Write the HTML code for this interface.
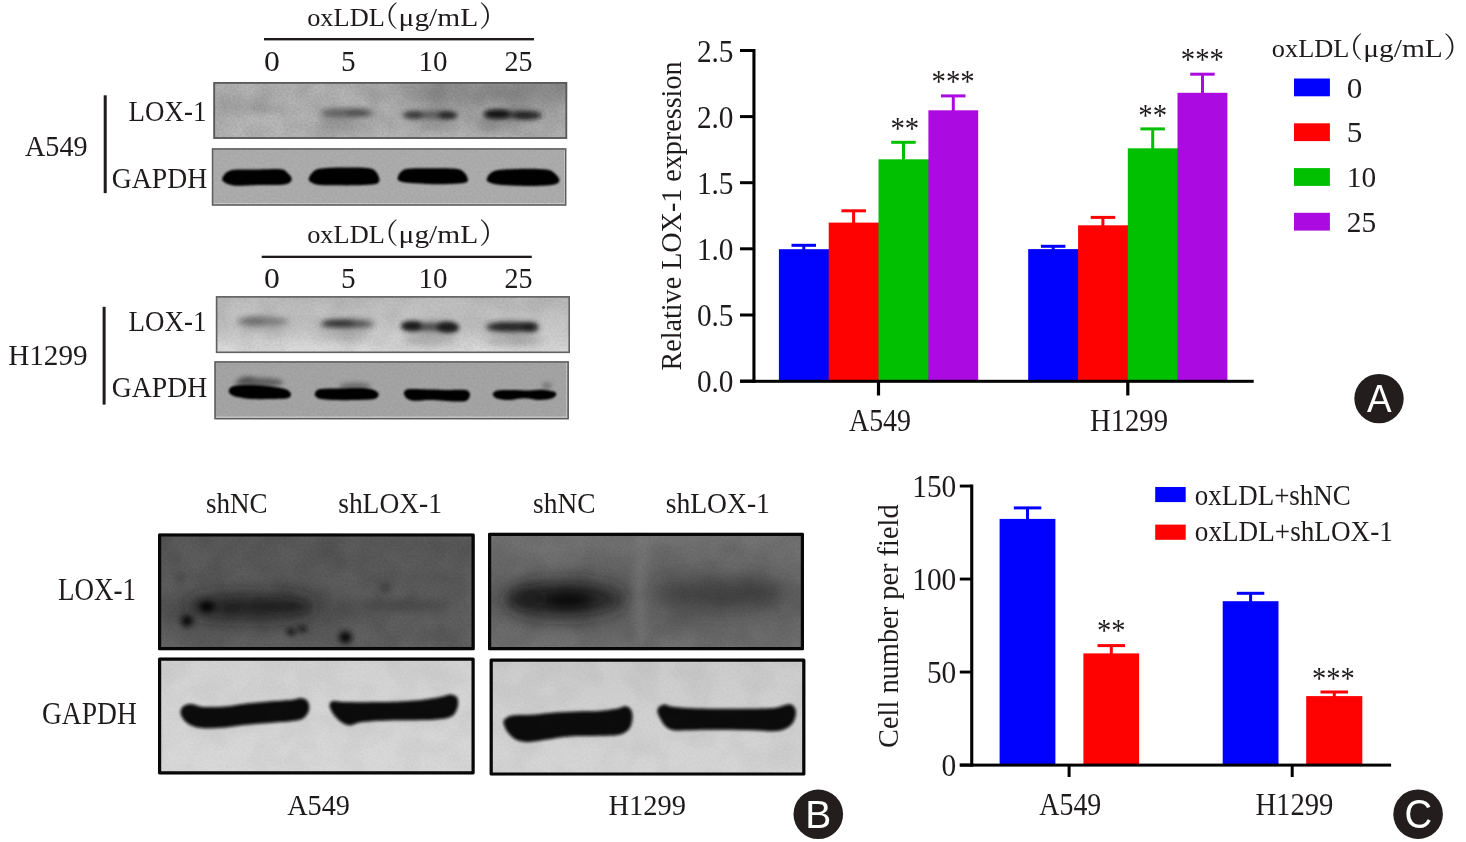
<!DOCTYPE html>
<html lang="en"><head><meta charset="utf-8"><title>Figure</title>
<style>html,body{margin:0;padding:0;background:#fff}svg{display:block}text{font-family:"Liberation Serif", "Noto Serif CJK SC", serif;}</style></head><body>
<svg width="1466" height="842" viewBox="0 0 1466 842">
<rect width="1466" height="842" fill="#fff"/>
<g opacity="0.999">
<defs>
<filter id="b05" filterUnits="userSpaceOnUse" x="0" y="0" width="1466" height="842"><feGaussianBlur stdDeviation="0.5"/></filter>
<filter id="b1" filterUnits="userSpaceOnUse" x="0" y="0" width="1466" height="842"><feGaussianBlur stdDeviation="1.0"/></filter>
<filter id="b15" filterUnits="userSpaceOnUse" x="0" y="0" width="1466" height="842"><feGaussianBlur stdDeviation="1.5"/></filter>
<filter id="b2" filterUnits="userSpaceOnUse" x="0" y="0" width="1466" height="842"><feGaussianBlur stdDeviation="2.0"/></filter>
<filter id="b3" filterUnits="userSpaceOnUse" x="0" y="0" width="1466" height="842"><feGaussianBlur stdDeviation="3.0"/></filter>
<filter id="b4" filterUnits="userSpaceOnUse" x="0" y="0" width="1466" height="842"><feGaussianBlur stdDeviation="4.0"/></filter>
<filter id="b6" filterUnits="userSpaceOnUse" x="0" y="0" width="1466" height="842"><feGaussianBlur stdDeviation="6.0"/></filter>
<filter id="b9" filterUnits="userSpaceOnUse" x="0" y="0" width="1466" height="842"><feGaussianBlur stdDeviation="9.0"/></filter>
<linearGradient id="gA1" x1="0" y1="0" x2="1" y2="0"><stop offset="0" stop-color="#b9b9b9"/><stop offset="0.45" stop-color="#bababa"/><stop offset="0.6" stop-color="#b4b4b4"/><stop offset="1" stop-color="#b2b2b2"/></linearGradient>
<linearGradient id="gH1" x1="0" y1="0" x2="0" y2="1"><stop offset="0" stop-color="#bfbfbf"/><stop offset="0.55" stop-color="#cbcbcb"/><stop offset="1" stop-color="#e0e0e0"/></linearGradient>
<linearGradient id="gB1" x1="0" y1="0" x2="0" y2="1"><stop offset="0" stop-color="#5c5c5c"/><stop offset="0.5" stop-color="#606060"/><stop offset="1" stop-color="#646464"/></linearGradient>
<linearGradient id="gB2" x1="0" y1="0" x2="0" y2="1"><stop offset="0" stop-color="#777"/><stop offset="0.5" stop-color="#6c6c6c"/><stop offset="1" stop-color="#747474"/></linearGradient>
<linearGradient id="gG1" x1="0" y1="0" x2="0" y2="1"><stop offset="0" stop-color="#d3d3d3"/><stop offset="1" stop-color="#dadada"/></linearGradient>
<linearGradient id="gG2" x1="0" y1="0" x2="0" y2="1"><stop offset="0" stop-color="#cdcdcd"/><stop offset="1" stop-color="#d7d7d7"/></linearGradient>
<filter id="nzf" filterUnits="userSpaceOnUse" x="0" y="0" width="1466" height="842"><feTurbulence type="fractalNoise" baseFrequency="0.45" numOctaves="2" seed="7"/><feColorMatrix type="matrix" values="0 0 0 0 0  0 0 0 0 0  0 0 0 0 0  1.6 0 0 0 -0.45"/><feGaussianBlur stdDeviation="0.6"/></filter>
<filter id="nzc" filterUnits="userSpaceOnUse" x="0" y="0" width="1466" height="842"><feTurbulence type="fractalNoise" baseFrequency="0.035" numOctaves="2" seed="11"/><feColorMatrix type="matrix" values="0 0 0 0 0  0 0 0 0 0  0 0 0 0 0  2.2 0 0 0 -0.75"/></filter>
</defs>
<clipPath id="c1"><rect x="213.3" y="82.0" width="353.9" height="56.9"/></clipPath>
<g clip-path="url(#c1)">
<rect x="213.3" y="82.0" width="353.9" height="56.9" fill="url(#gA1)"/>
<ellipse cx="505.0" cy="90.0" rx="95.0" ry="16.0" fill="#7c7c7c" opacity="0.62" filter="url(#b9)"/>
<ellipse cx="405.0" cy="90.0" rx="60.0" ry="12.0" fill="#909090" opacity="0.4" filter="url(#b9)"/>
<ellipse cx="330.0" cy="136.0" rx="120.0" ry="5.0" fill="#c8c8c8" opacity="0.45" filter="url(#b4)"/>
<ellipse cx="480.0" cy="136.0" rx="90.0" ry="6.0" fill="#c8c8c8" opacity="0.5" filter="url(#b6)"/>
<ellipse cx="222.0" cy="118.0" rx="8.0" ry="14.0" fill="#a4a4a4" opacity="0.55" filter="url(#b6)"/>
<ellipse cx="265.6" cy="109.0" rx="24.0" ry="3.4" fill="#999" opacity="0.42" filter="url(#b3)"/>
<ellipse cx="347.0" cy="113.0" rx="27.0" ry="4.6" fill="#484848" opacity="0.8" filter="url(#b3)"/>
<ellipse cx="358.0" cy="113.0" rx="12.0" ry="3.0" fill="#333" opacity="0.4" filter="url(#b2)"/>
<ellipse cx="347.0" cy="124.0" rx="24.0" ry="6.0" fill="#888" opacity="0.4" filter="url(#b4)"/>
<ellipse cx="430.0" cy="115.0" rx="27.0" ry="3.8" fill="#444" opacity="0.85" filter="url(#b3)"/>
<ellipse cx="413.0" cy="115.0" rx="10.0" ry="3.2" fill="#2a2a2a" opacity="0.7" filter="url(#b2)"/>
<ellipse cx="447.5" cy="115.5" rx="9.5" ry="3.8" fill="#1c1c1c" opacity="0.85" filter="url(#b2)"/>
<ellipse cx="440.0" cy="126.0" rx="22.0" ry="6.0" fill="#808080" opacity="0.45" filter="url(#b4)"/>
<ellipse cx="513.0" cy="115.0" rx="29.0" ry="4.0" fill="#2c2c2c" opacity="0.9" filter="url(#b3)"/>
<ellipse cx="497.0" cy="114.3" rx="13.0" ry="4.6" fill="#0a0a0a" opacity="0.92" filter="url(#b2)"/>
<ellipse cx="527.0" cy="115.5" rx="14.0" ry="3.2" fill="#141414" opacity="0.75" filter="url(#b2)"/>
<ellipse cx="500.0" cy="126.0" rx="22.0" ry="6.0" fill="#7c7c7c" opacity="0.5" filter="url(#b4)"/>
<rect x="213.3" y="82.0" width="353.9" height="56.9" filter="url(#nzc)" opacity="0.1"/>
<rect x="213.3" y="82.0" width="353.9" height="56.9" filter="url(#nzf)" opacity="0.1"/>
</g>
<rect x="214.20" y="82.90" width="352.10" height="55.10" fill="none" stroke="#585858" stroke-width="1.8" stroke-linejoin="miter"/>
<clipPath id="c2"><rect x="211.8" y="148.2" width="354.6" height="57.5"/></clipPath>
<g clip-path="url(#c2)">
<rect x="211.8" y="148.2" width="354.6" height="57.5" fill="#aeaeae"/>
<path d="M222.3 178.2C222.9 176.6 224.7 173.4 227.2 172.0C229.6 170.6 231.7 170.0 237.0 169.6C242.3 169.1 251.8 169.6 259.1 169.6C266.4 169.5 276.1 168.8 280.7 169.3C285.4 169.8 285.3 170.9 287.1 172.5C289.0 174.1 291.6 177.0 291.8 178.9C291.9 180.7 290.3 182.5 288.1 183.6C285.9 184.6 283.6 184.8 278.8 185.0C273.9 185.3 266.1 184.9 259.1 185.0C252.2 185.2 242.3 185.9 237.0 185.8C231.8 185.6 230.0 184.8 227.7 184.0C225.4 183.3 224.2 182.3 223.3 181.3C222.4 180.4 221.6 179.7 222.3 178.2Z" fill="#040404" opacity="1" filter="url(#b1)"/>
<path d="M308.7 178.9C308.9 177.3 310.4 174.4 312.2 172.8C314.0 171.1 314.5 169.7 319.5 168.8C324.6 168.0 334.7 167.7 342.6 167.6C350.6 167.5 361.7 167.5 367.2 168.1C372.7 168.7 373.5 169.6 375.5 171.3C377.5 173.0 378.6 176.5 379.2 178.2C379.8 179.8 379.6 180.4 379.0 181.3C378.3 182.3 379.1 183.4 375.5 184.0C371.9 184.7 364.5 185.1 357.3 185.3C350.2 185.5 339.3 185.4 332.8 185.3C326.2 185.2 321.7 185.3 318.1 184.8C314.5 184.3 312.7 183.3 311.2 182.3C309.6 181.3 308.6 180.5 308.7 178.9Z" fill="#040404" opacity="1" filter="url(#b1)"/>
<path d="M397.6 178.2C397.8 176.7 398.9 173.8 400.6 172.3C402.3 170.7 402.9 169.5 407.9 168.8C413.0 168.2 423.1 168.3 431.0 168.3C439.0 168.3 450.1 168.2 455.6 168.8C461.1 169.5 461.9 170.5 463.9 172.3C466.0 174.0 467.7 177.6 467.9 179.4C468.0 181.1 467.8 182.0 464.9 182.8C462.0 183.6 457.1 183.8 450.7 184.0C444.2 184.3 433.5 184.3 426.1 184.0C418.7 183.8 410.9 183.3 406.5 182.8C402.0 182.3 401.1 181.9 399.6 181.1C398.1 180.3 397.5 179.6 397.6 178.2Z" fill="#040404" opacity="1" filter="url(#b1)"/>
<path d="M486.8 179.4C486.9 177.9 488.2 175.0 490.2 173.5C492.2 171.9 493.1 170.8 498.8 170.0C504.5 169.3 516.4 168.9 524.3 168.8C532.3 168.7 541.4 168.8 546.4 169.6C551.5 170.3 552.6 171.8 554.8 173.5C557.0 175.2 559.3 178.1 559.5 179.9C559.6 181.6 558.8 183.1 555.8 184.0C552.8 185.0 548.0 185.5 541.5 185.8C535.1 186.1 524.3 186.0 517.0 185.8C509.6 185.6 502.0 185.1 497.3 184.5C492.7 184.0 491.0 183.2 489.2 182.3C487.5 181.5 486.6 180.9 486.8 179.4Z" fill="#040404" opacity="1" filter="url(#b1)"/>
<rect x="212.5" y="203.4" width="353" height="1.2" fill="#e6e6e6" opacity="0.8"/>
<rect x="564.0" y="149.5" width="1.1" height="55" fill="#dcdcdc" opacity="0.7"/>
<rect x="211.8" y="148.2" width="354.6" height="57.5" filter="url(#nzf)" opacity="0.06"/>
</g>
<rect x="212.55" y="148.95" width="353.10" height="56.00" fill="none" stroke="#5c5c5c" stroke-width="1.5" stroke-linejoin="miter"/>
<clipPath id="c3"><rect x="215.8" y="296.1" width="354.2" height="57.0"/></clipPath>
<g clip-path="url(#c3)">
<rect x="215.8" y="296.1" width="354.2" height="57.0" fill="url(#gH1)"/>
<ellipse cx="262.7" cy="321.5" rx="27.0" ry="4.2" fill="#5e5e5e" opacity="0.75" filter="url(#b3)"/>
<ellipse cx="252.0" cy="321.0" rx="12.0" ry="3.0" fill="#444" opacity="0.35" filter="url(#b3)"/>
<ellipse cx="262.7" cy="330.0" rx="24.0" ry="6.0" fill="#999" opacity="0.3" filter="url(#b4)"/>
<ellipse cx="347.3" cy="324.0" rx="27.0" ry="4.4" fill="#343434" opacity="0.9" filter="url(#b3)"/>
<ellipse cx="338.0" cy="323.3" rx="15.0" ry="3.0" fill="#1c1c1c" opacity="0.55" filter="url(#b2)"/>
<ellipse cx="347.3" cy="335.0" rx="24.0" ry="6.0" fill="#888" opacity="0.45" filter="url(#b4)"/>
<ellipse cx="430.0" cy="327.0" rx="27.0" ry="4.2" fill="#333" opacity="0.9" filter="url(#b3)"/>
<ellipse cx="411.5" cy="326.0" rx="10.5" ry="4.8" fill="#141414" opacity="0.92" filter="url(#b2)"/>
<ellipse cx="448.0" cy="327.5" rx="11.0" ry="5.4" fill="#121212" opacity="0.92" filter="url(#b2)"/>
<ellipse cx="430.0" cy="339.0" rx="26.0" ry="6.0" fill="#888" opacity="0.5" filter="url(#b4)"/>
<ellipse cx="512.4" cy="327.0" rx="27.0" ry="4.8" fill="#242424" opacity="0.92" filter="url(#b3)"/>
<ellipse cx="512.0" cy="327.0" rx="24.0" ry="3.6" fill="#141414" opacity="0.6" filter="url(#b2)"/>
<ellipse cx="530.5" cy="327.5" rx="7.0" ry="4.6" fill="#141414" opacity="0.6" filter="url(#b2)"/>
<ellipse cx="514.0" cy="340.0" rx="28.0" ry="6.5" fill="#888" opacity="0.5" filter="url(#b4)"/>
<rect x="215.8" y="296.1" width="354.2" height="57.0" filter="url(#nzc)" opacity="0.06"/>
<rect x="215.8" y="296.1" width="354.2" height="57.0" filter="url(#nzf)" opacity="0.07"/>
</g>
<rect x="216.60" y="296.90" width="352.60" height="55.40" fill="none" stroke="#606060" stroke-width="1.6" stroke-linejoin="miter"/>
<clipPath id="c4"><rect x="214.3" y="361.2" width="354.6" height="58.2"/></clipPath>
<g clip-path="url(#c4)">
<rect x="214.3" y="361.2" width="354.6" height="58.2" fill="#a6a6a6"/>
<ellipse cx="259.0" cy="382.5" rx="24.0" ry="5.0" fill="#2a2a2a" opacity="0.55" filter="url(#b2)"/>
<ellipse cx="247.0" cy="379.5" rx="8.0" ry="3.5" fill="#333" opacity="0.4" filter="url(#b2)"/>
<ellipse cx="355.0" cy="386.0" rx="16.0" ry="3.2" fill="#333" opacity="0.5" filter="url(#b2)"/>
<ellipse cx="547.0" cy="386.0" rx="5.0" ry="4.0" fill="#444" opacity="0.4" filter="url(#b2)"/>
<path d="M228.9 389.9C229.4 388.5 230.6 386.8 233.6 386.0C236.6 385.2 241.4 385.0 246.8 385.0C252.3 385.0 260.4 385.4 266.5 386.0C272.6 386.6 279.6 387.6 283.4 388.5C287.2 389.4 288.1 390.3 289.3 391.4C290.6 392.5 291.4 393.7 291.0 394.8C290.7 396.0 290.4 397.6 287.1 398.3C283.8 399.0 277.3 398.9 271.4 399.0C265.5 399.1 257.4 399.3 251.7 399.0C246.1 398.7 240.8 397.8 237.3 397.0C233.7 396.3 232.0 395.5 230.6 394.3C229.2 393.2 228.4 391.3 228.9 389.9Z" fill="#050505" opacity="1" filter="url(#b1)"/>
<path d="M314.9 393.6C315.4 392.3 315.7 390.0 319.5 389.2C323.3 388.3 331.4 388.7 337.7 388.5C344.0 388.2 351.7 387.8 357.3 388.0C363.0 388.1 368.4 388.4 371.8 389.2C375.2 390.0 376.6 391.6 377.7 392.6C378.8 393.6 379.0 394.3 378.5 395.3C377.9 396.4 377.8 398.2 374.3 399.0C370.8 399.8 364.3 399.8 357.3 400.0C350.4 400.2 338.9 400.2 332.8 400.0C326.7 399.8 323.5 399.5 320.8 399.0C318.0 398.5 317.1 397.7 316.1 396.8C315.1 395.9 314.3 394.9 314.9 393.6Z" fill="#050505" opacity="1" filter="url(#b1)"/>
<path d="M404.0 392.4C404.6 391.4 404.7 389.7 407.9 389.2C411.2 388.7 417.4 389.1 423.7 389.2C430.0 389.3 438.8 389.8 445.8 389.9C452.7 390.0 461.2 389.5 465.2 389.9C469.1 390.4 468.6 391.6 469.3 392.6C470.1 393.6 470.3 394.7 469.8 396.1C469.3 397.4 468.8 399.8 466.4 400.7C464.0 401.6 461.5 401.6 455.6 401.5C449.7 401.3 437.9 400.1 431.0 400.0C424.1 399.9 418.1 401.0 414.1 400.7C410.1 400.5 408.6 399.4 407.0 398.5C405.4 397.6 405.0 396.4 404.5 395.3C404.0 394.3 403.4 393.4 404.0 392.4Z" fill="#050505" opacity="1" filter="url(#b1)"/>
<path d="M492.9 393.6C493.5 392.5 494.4 391.0 497.6 390.4C500.8 389.8 506.8 389.9 512.1 389.9C517.3 389.9 523.9 390.4 529.3 390.4C534.6 390.4 539.9 389.7 544.0 389.9C548.0 390.1 551.5 390.9 553.6 391.6C555.6 392.4 556.5 393.2 556.3 394.3C556.1 395.5 555.2 397.3 552.3 398.3C549.5 399.2 543.7 400.0 539.1 400.0C534.4 400.0 529.3 398.3 524.3 398.3C519.4 398.3 513.9 399.9 509.6 400.0C505.4 400.1 501.4 399.5 498.8 399.0C496.2 398.5 495.1 397.7 494.1 396.8C493.2 395.9 492.3 394.7 492.9 393.6Z" fill="#050505" opacity="1" filter="url(#b1)"/>
<rect x="215.0" y="416.6" width="353" height="1.2" fill="#e6e6e6" opacity="0.8"/>
<rect x="566.2" y="362.5" width="1.1" height="55" fill="#dcdcdc" opacity="0.7"/>
<rect x="214.3" y="361.2" width="354.6" height="58.2" filter="url(#nzf)" opacity="0.06"/>
</g>
<rect x="215.05" y="361.95" width="353.10" height="56.70" fill="none" stroke="#5c5c5c" stroke-width="1.5" stroke-linejoin="miter"/>
<clipPath id="c5"><rect x="158.0" y="533.4" width="316.7" height="116.9"/></clipPath>
<g clip-path="url(#c5)">
<rect x="158.0" y="533.4" width="316.7" height="116.9" fill="url(#gB1)"/>
<ellipse cx="262.0" cy="610.0" rx="105.0" ry="22.0" fill="#484848" opacity="0.45" filter="url(#b9)"/>
<ellipse cx="251.0" cy="606.5" rx="66.0" ry="11.5" fill="#1e1e1e" opacity="0.84" filter="url(#b9)"/>
<ellipse cx="282.0" cy="606.5" rx="30.0" ry="5.0" fill="#181818" opacity="0.5" filter="url(#b4)"/>
<ellipse cx="232.0" cy="608.0" rx="11.0" ry="4.5" fill="#181818" opacity="0.45" filter="url(#b3)"/>
<ellipse cx="207.0" cy="606.5" rx="8.0" ry="5.6" fill="#050505" opacity="0.95" filter="url(#b3)"/>
<ellipse cx="187.0" cy="621.0" rx="5.8" ry="5.4" fill="#050505" opacity="0.97" filter="url(#b3)"/>
<ellipse cx="291.0" cy="632.0" rx="4.6" ry="3.4" fill="#0e0e0e" opacity="0.75" filter="url(#b2)"/>
<ellipse cx="302.5" cy="629.0" rx="4.6" ry="3.0" fill="#0e0e0e" opacity="0.7" filter="url(#b2)"/>
<ellipse cx="345.5" cy="637.3" rx="6.4" ry="5.8" fill="#030303" opacity="1.0" filter="url(#b3)"/>
<ellipse cx="385.7" cy="587.5" rx="5.5" ry="5.0" fill="#3a3a3a" opacity="0.75" filter="url(#b3)"/>
<ellipse cx="180.5" cy="578.0" rx="5.5" ry="5.0" fill="#444" opacity="0.6" filter="url(#b3)"/>
<ellipse cx="404.0" cy="605.0" rx="46.0" ry="5.5" fill="#404040" opacity="0.5" filter="url(#b4)"/>
<rect x="158.0" y="533.4" width="316.7" height="116.9" filter="url(#nzc)" opacity="0.1"/>
<rect x="158.0" y="533.4" width="316.7" height="116.9" filter="url(#nzf)" opacity="0.1"/>
</g>
<rect x="159.60" y="535.00" width="313.50" height="113.70" fill="none" stroke="#070707" stroke-width="3.2" stroke-linejoin="round"/>
<clipPath id="c6"><rect x="158.0" y="657.5" width="316.7" height="116.9"/></clipPath>
<g clip-path="url(#c6)">
<rect x="158.0" y="657.5" width="316.7" height="116.9" fill="url(#gG1)"/>
<path d="M180.5 712.7C180.3 710.5 181.5 708.1 183.1 706.6C184.8 705.2 187.1 704.0 190.6 704.0C194.0 704.0 197.8 706.4 203.7 706.9C209.5 707.3 218.2 707.0 225.5 706.4C232.8 705.8 240.0 704.2 247.3 703.4C254.6 702.5 261.9 702.0 269.1 701.4C276.4 700.8 285.9 700.4 291.0 699.9C296.1 699.4 297.2 698.4 299.7 698.3C302.2 698.3 304.3 698.5 305.8 699.6C307.4 700.8 308.7 703.1 309.1 705.3C309.5 707.5 309.2 710.5 308.0 712.7C306.8 715.0 304.7 717.7 301.9 719.1C299.1 720.5 296.4 720.6 291.0 721.3C285.5 721.9 276.4 722.4 269.1 723.0C261.9 723.6 254.6 724.0 247.3 724.8C240.0 725.5 232.8 726.8 225.5 727.4C218.2 728.0 209.1 728.5 203.7 728.2C198.2 728.0 195.9 727.4 192.7 726.1C189.5 724.8 186.5 722.6 184.4 720.4C182.4 718.2 180.7 715.0 180.5 712.7Z" fill="#090909" opacity="1" filter="url(#b15)"/>
<path d="M329.6 706.2C329.4 703.9 329.8 701.9 332.5 701.2C335.1 700.5 337.9 701.9 345.5 702.0C353.2 702.2 369.2 702.2 378.3 702.0C387.4 701.9 392.8 701.8 400.1 701.4C407.4 701.0 415.0 700.6 422.0 699.9C428.9 699.1 436.9 697.7 441.6 696.8C446.3 695.9 447.9 694.6 450.3 694.6C452.8 694.6 455.1 695.6 456.4 696.8C457.8 698.0 458.2 699.8 458.2 702.0C458.2 704.3 457.8 708.1 456.4 710.6C455.1 713.0 454.3 715.4 450.3 716.9C446.4 718.4 441.2 719.2 432.9 719.7C424.5 720.3 409.2 720.0 400.1 720.2C391.0 720.3 384.8 720.5 378.3 720.8C371.7 721.2 365.6 721.6 360.8 722.3C356.1 723.1 353.1 725.4 349.9 725.4C346.7 725.4 344.3 724.1 341.6 722.3C339.0 720.6 336.0 717.6 334.0 714.9C332.0 712.2 329.9 708.5 329.6 706.2Z" fill="#090909" opacity="1" filter="url(#b15)"/>
<rect x="158.0" y="657.5" width="316.7" height="116.9" filter="url(#nzc)" opacity="0.035"/>
<rect x="158.0" y="657.5" width="316.7" height="116.9" filter="url(#nzf)" opacity="0.03"/>
</g>
<rect x="159.60" y="659.10" width="313.50" height="113.70" fill="none" stroke="#070707" stroke-width="3.2" stroke-linejoin="round"/>
<clipPath id="c7"><rect x="488.0" y="532.8" width="316.0" height="117.5"/></clipPath>
<g clip-path="url(#c7)">
<rect x="488.0" y="532.8" width="316.0" height="117.5" fill="url(#gB2)"/>
<ellipse cx="646.0" cy="600.0" rx="170.0" ry="34.0" fill="#5a5a5a" opacity="0.5" filter="url(#b9)"/>
<ellipse cx="565.0" cy="599.0" rx="60.0" ry="17.0" fill="#1a1a1a" opacity="0.9" filter="url(#b9)"/>
<ellipse cx="568.0" cy="600.5" rx="24.0" ry="7.5" fill="#060606" opacity="0.75" filter="url(#b6)"/>
<ellipse cx="527.0" cy="598.0" rx="18.0" ry="9.0" fill="#161616" opacity="0.55" filter="url(#b6)"/>
<ellipse cx="722.0" cy="594.5" rx="64.0" ry="14.5" fill="#3c3c3c" opacity="0.85" filter="url(#b9)"/>
<ellipse cx="640.0" cy="590.0" rx="6.0" ry="70.0" fill="#808080" opacity="0.5" filter="url(#b4)"/>
<rect x="488.0" y="532.8" width="316.0" height="117.5" filter="url(#nzc)" opacity="0.08"/>
<rect x="488.0" y="532.8" width="316.0" height="117.5" filter="url(#nzf)" opacity="0.08"/>
</g>
<rect x="489.60" y="534.40" width="312.80" height="114.30" fill="none" stroke="#070707" stroke-width="3.2" stroke-linejoin="round"/>
<clipPath id="c8"><rect x="489.6" y="658.5" width="315.8" height="117.1"/></clipPath>
<g clip-path="url(#c8)">
<rect x="489.6" y="658.5" width="315.8" height="117.1" fill="url(#gG2)"/>
<path d="M503.5 722.7C503.2 720.4 504.0 719.6 505.7 718.4C507.5 717.1 509.4 715.9 514.0 715.3C518.7 714.7 526.7 715.1 533.7 714.7C540.6 714.2 548.2 713.0 555.5 712.5C562.8 711.9 570.0 711.6 577.3 711.4C584.6 711.1 592.6 711.4 599.1 711.0C605.7 710.5 612.2 709.6 616.6 708.8C621.0 708.0 623.0 706.2 625.3 706.2C627.6 706.2 629.2 707.1 630.4 708.8C631.6 710.4 632.5 713.2 632.5 716.2C632.5 719.2 631.9 724.0 630.4 726.9C628.8 729.8 626.5 732.0 623.2 733.4C619.8 734.9 615.9 735.2 610.1 735.6C604.2 736.1 595.5 735.9 588.2 736.1C581.0 736.2 573.3 736.1 566.4 736.7C559.5 737.3 552.9 738.7 546.8 739.6C540.6 740.4 534.3 741.9 529.3 742.0C524.3 742.0 520.2 741.6 516.6 740.0C513.1 738.4 510.1 735.4 507.9 732.6C505.7 729.7 503.9 725.1 503.5 722.7Z" fill="#090909" opacity="1" filter="url(#b15)"/>
<path d="M657.4 710.7C657.4 709.0 658.4 707.6 659.6 706.6C660.8 705.6 662.7 704.6 664.6 704.6C666.6 704.6 667.5 706.0 671.2 706.6C674.8 707.2 680.3 707.8 686.5 708.1C692.6 708.5 701.0 708.7 708.3 708.8C715.6 708.9 722.8 708.8 730.1 708.8C737.4 708.8 744.7 708.9 752.0 708.8C759.2 708.7 768.3 708.7 773.8 708.1C779.2 707.5 781.8 705.9 784.7 705.3C787.6 704.7 789.5 704.0 791.2 704.6C793.0 705.2 794.4 707.2 795.2 708.8C795.9 710.3 796.2 711.7 795.8 714.0C795.5 716.3 794.8 720.2 793.0 722.7C791.1 725.3 787.9 727.7 784.7 729.1C781.5 730.5 779.2 731.1 773.8 731.3C768.3 731.4 759.2 730.4 752.0 730.2C744.7 729.9 737.4 729.8 730.1 729.7C722.8 729.7 715.6 729.7 708.3 729.7C701.0 729.8 692.3 730.1 686.5 730.2C680.6 730.2 676.9 730.9 673.4 730.2C669.8 729.5 667.4 728.2 665.1 726.0C662.8 723.9 660.9 719.8 659.6 717.3C658.3 714.7 657.4 712.5 657.4 710.7Z" fill="#090909" opacity="1" filter="url(#b15)"/>
<rect x="489.6" y="658.5" width="315.8" height="117.1" filter="url(#nzc)" opacity="0.035"/>
<rect x="489.6" y="658.5" width="315.8" height="117.1" filter="url(#nzf)" opacity="0.03"/>
</g>
<rect x="491.20" y="660.10" width="312.60" height="113.90" fill="none" stroke="#070707" stroke-width="3.2" stroke-linejoin="round"/>
<text font-size="26" fill="#1f1b1b"><tspan x="307.2" y="26.0" textLength="77.6" lengthAdjust="spacingAndGlyphs">oxLDL</tspan><tspan x="370.0" y="27.1" font-size="28.5">（</tspan><tspan x="398.6" y="26.0" textLength="79.6" lengthAdjust="spacingAndGlyphs">μg/mL</tspan><tspan x="479.0" y="27.1" font-size="28.5">）</tspan></text>
<rect x="264.0" y="38.0" width="270.0" height="2.4" fill="#1f1b1b" />
<text x="271.9" y="71.3" font-size="30" text-anchor="middle" textLength="15.8" lengthAdjust="spacingAndGlyphs" fill="#1f1b1b" >0</text>
<text x="348.2" y="71.3" font-size="30" text-anchor="middle" textLength="14.6" lengthAdjust="spacingAndGlyphs" fill="#1f1b1b" >5</text>
<text x="433.1" y="71.3" font-size="30" text-anchor="middle" textLength="29.0" lengthAdjust="spacingAndGlyphs" fill="#1f1b1b" >10</text>
<text x="518.4" y="71.3" font-size="30" text-anchor="middle" textLength="28.0" lengthAdjust="spacingAndGlyphs" fill="#1f1b1b" >25</text>
<text x="25.0" y="156.2" font-size="29.3" text-anchor="start" textLength="62.6" lengthAdjust="spacingAndGlyphs" fill="#1f1b1b" >A549</text>
<text x="128.6" y="121.2" font-size="29.3" text-anchor="start" textLength="77.8" lengthAdjust="spacingAndGlyphs" fill="#1f1b1b" >LOX-1</text>
<text x="111.8" y="187.5" font-size="29.3" text-anchor="start" textLength="95.4" lengthAdjust="spacingAndGlyphs" fill="#1f1b1b" >GAPDH</text>
<rect x="103.7" y="95.3" width="3.0" height="97.8" fill="#1f1b1b" />
<text font-size="26" fill="#1f1b1b"><tspan x="307.2" y="242.7" textLength="77.6" lengthAdjust="spacingAndGlyphs">oxLDL</tspan><tspan x="370.0" y="243.8" font-size="28.5">（</tspan><tspan x="398.6" y="242.7" textLength="79.6" lengthAdjust="spacingAndGlyphs">μg/mL</tspan><tspan x="479.0" y="243.8" font-size="28.5">）</tspan></text>
<rect x="261.7" y="255.7" width="270.1" height="2.3" fill="#1f1b1b" />
<text x="271.9" y="287.5" font-size="30" text-anchor="middle" textLength="15.8" lengthAdjust="spacingAndGlyphs" fill="#1f1b1b" >0</text>
<text x="348.2" y="287.5" font-size="30" text-anchor="middle" textLength="14.6" lengthAdjust="spacingAndGlyphs" fill="#1f1b1b" >5</text>
<text x="433.1" y="287.5" font-size="30" text-anchor="middle" textLength="29.0" lengthAdjust="spacingAndGlyphs" fill="#1f1b1b" >10</text>
<text x="518.4" y="287.5" font-size="30" text-anchor="middle" textLength="28.0" lengthAdjust="spacingAndGlyphs" fill="#1f1b1b" >25</text>
<text x="8.2" y="365.0" font-size="29.3" text-anchor="start" textLength="79.4" lengthAdjust="spacingAndGlyphs" fill="#1f1b1b" >H1299</text>
<text x="128.6" y="331.2" font-size="29.3" text-anchor="start" textLength="77.8" lengthAdjust="spacingAndGlyphs" fill="#1f1b1b" >LOX-1</text>
<text x="111.8" y="397.0" font-size="29.3" text-anchor="start" textLength="95.4" lengthAdjust="spacingAndGlyphs" fill="#1f1b1b" >GAPDH</text>
<rect x="102.6" y="306.8" width="3.0" height="97.8" fill="#1f1b1b" />
<rect x="802.3" y="245.3" width="3.0" height="4.9" fill="#0000fe" />
<rect x="791.5" y="243.8" width="24.5" height="3.0" fill="#0000fe" />
<rect x="852.1" y="210.8" width="3.0" height="12.8" fill="#fe0000" />
<rect x="841.4" y="209.3" width="24.5" height="3.0" fill="#fe0000" />
<rect x="902.0" y="142.3" width="3.0" height="18.0" fill="#00c000" />
<rect x="891.2" y="140.8" width="24.5" height="3.0" fill="#00c000" />
<rect x="951.8" y="95.9" width="3.0" height="15.4" fill="#ab0be0" />
<rect x="941.0" y="94.4" width="24.5" height="3.0" fill="#ab0be0" />
<rect x="1051.7" y="246.3" width="3.0" height="3.8" fill="#0000fe" />
<rect x="1040.9" y="244.8" width="24.5" height="3.0" fill="#0000fe" />
<rect x="1101.4" y="217.4" width="3.0" height="8.9" fill="#fe0000" />
<rect x="1090.7" y="215.9" width="24.5" height="3.0" fill="#fe0000" />
<rect x="1151.2" y="128.9" width="3.0" height="20.4" fill="#00c000" />
<rect x="1140.4" y="127.4" width="24.5" height="3.0" fill="#00c000" />
<rect x="1201.0" y="74.2" width="3.0" height="19.6" fill="#ab0be0" />
<rect x="1190.2" y="72.7" width="24.5" height="3.0" fill="#ab0be0" />
<rect x="778.9" y="249.2" width="50.8" height="132.1" fill="#0000fe" />
<rect x="828.7" y="222.6" width="50.8" height="158.7" fill="#fe0000" />
<rect x="878.5" y="159.3" width="50.9" height="222.0" fill="#00c000" />
<rect x="928.4" y="110.3" width="49.8" height="271.0" fill="#ab0be0" />
<rect x="1028.2" y="249.1" width="50.9" height="132.2" fill="#0000fe" />
<rect x="1078.1" y="225.3" width="50.7" height="156.0" fill="#fe0000" />
<rect x="1127.8" y="148.3" width="50.7" height="233.0" fill="#00c000" />
<rect x="1177.5" y="92.8" width="49.9" height="288.5" fill="#ab0be0" />
<rect x="752.4" y="49.0" width="3.1" height="333.8" fill="#000" />
<rect x="740.0" y="379.8" width="513.7" height="3.0" fill="#000" />
<rect x="740.0" y="379.6" width="14.0" height="3.0" fill="#000" />
<text x="733.5" y="392.3" font-size="32.2" text-anchor="end" textLength="36.6" lengthAdjust="spacingAndGlyphs" fill="#1f1b1b" >0.0</text>
<rect x="740.0" y="313.5" width="14.0" height="3.0" fill="#000" />
<text x="733.5" y="326.2" font-size="32.2" text-anchor="end" textLength="36.6" lengthAdjust="spacingAndGlyphs" fill="#1f1b1b" >0.5</text>
<rect x="740.0" y="247.3" width="14.0" height="3.0" fill="#000" />
<text x="733.5" y="260.0" font-size="32.2" text-anchor="end" textLength="36.6" lengthAdjust="spacingAndGlyphs" fill="#1f1b1b" >1.0</text>
<rect x="740.0" y="181.2" width="14.0" height="3.0" fill="#000" />
<text x="733.5" y="193.9" font-size="32.2" text-anchor="end" textLength="36.6" lengthAdjust="spacingAndGlyphs" fill="#1f1b1b" >1.5</text>
<rect x="740.0" y="115.1" width="14.0" height="3.0" fill="#000" />
<text x="733.5" y="127.8" font-size="32.2" text-anchor="end" textLength="36.6" lengthAdjust="spacingAndGlyphs" fill="#1f1b1b" >2.0</text>
<rect x="740.0" y="49.0" width="14.0" height="3.0" fill="#000" />
<text x="733.5" y="61.7" font-size="32.2" text-anchor="end" textLength="36.6" lengthAdjust="spacingAndGlyphs" fill="#1f1b1b" >2.5</text>
<rect x="876.9" y="381.3" width="3.2" height="14.2" fill="#000" />
<rect x="1126.2" y="381.3" width="3.2" height="14.2" fill="#000" />
<text x="880.0" y="430.6" font-size="31.8" text-anchor="middle" textLength="62.0" lengthAdjust="spacingAndGlyphs" fill="#1f1b1b" >A549</text>
<text x="1129.0" y="430.8" font-size="31.8" text-anchor="middle" textLength="78.0" lengthAdjust="spacingAndGlyphs" fill="#1f1b1b" >H1299</text>
<text transform="translate(681.0,216.0) rotate(-90)" font-size="29.9" text-anchor="middle" textLength="309.0" lengthAdjust="spacingAndGlyphs" fill="#1f1b1b">Relative LOX-1 expression</text>
<text x="904.8" y="138.8" font-size="30.8" text-anchor="middle" textLength="28.8" lengthAdjust="spacingAndGlyphs" fill="#1f1b1b" >**</text>
<text x="953.1" y="92.4" font-size="30.8" text-anchor="middle" textLength="43.2" lengthAdjust="spacingAndGlyphs" fill="#1f1b1b" >***</text>
<text x="1152.7" y="126.1" font-size="30.8" text-anchor="middle" textLength="28.8" lengthAdjust="spacingAndGlyphs" fill="#1f1b1b" >**</text>
<text x="1202.4" y="70.3" font-size="30.8" text-anchor="middle" textLength="43.2" lengthAdjust="spacingAndGlyphs" fill="#1f1b1b" >***</text>
<text font-size="26" fill="#1f1b1b"><tspan x="1271.8" y="56.9" textLength="77.6" lengthAdjust="spacingAndGlyphs">oxLDL</tspan><tspan x="1334.6" y="58.0" font-size="28.5">（</tspan><tspan x="1363.2" y="56.9" textLength="79.6" lengthAdjust="spacingAndGlyphs">μg/mL</tspan><tspan x="1443.6" y="58.0" font-size="28.5">）</tspan></text>
<rect x="1294.0" y="78.5" width="35.9" height="17.8" fill="#0000fe" />
<text x="1346.7" y="97.5" font-size="29" text-anchor="start" textLength="15.6" lengthAdjust="spacingAndGlyphs" fill="#1f1b1b" >0</text>
<rect x="1294.0" y="123.3" width="35.9" height="17.8" fill="#fe0000" />
<text x="1346.7" y="142.3" font-size="29" text-anchor="start" textLength="15.6" lengthAdjust="spacingAndGlyphs" fill="#1f1b1b" >5</text>
<rect x="1294.0" y="168.1" width="35.9" height="17.8" fill="#00c000" />
<text x="1346.7" y="187.1" font-size="29" text-anchor="start" textLength="29.4" lengthAdjust="spacingAndGlyphs" fill="#1f1b1b" >10</text>
<rect x="1294.0" y="212.8" width="35.9" height="17.8" fill="#ab0be0" />
<text x="1346.7" y="231.8" font-size="29" text-anchor="start" textLength="29.4" lengthAdjust="spacingAndGlyphs" fill="#1f1b1b" >25</text>
<circle cx="1379.0" cy="398.6" r="24.7" fill="#231d1d"/>
<text x="1379.2" y="411.6" font-size="39" text-anchor="middle" textLength="24.6" lengthAdjust="spacingAndGlyphs" fill="#fff" style="font-family:'Liberation Sans',sans-serif">A</text>
<text x="205.9" y="513.2" font-size="30" text-anchor="start" textLength="61.6" lengthAdjust="spacingAndGlyphs" fill="#1f1b1b" >shNC</text>
<text x="338.2" y="513.2" font-size="30" text-anchor="start" textLength="103.8" lengthAdjust="spacingAndGlyphs" fill="#1f1b1b" >shLOX-1</text>
<text x="533.1" y="513.2" font-size="30" text-anchor="start" textLength="62.4" lengthAdjust="spacingAndGlyphs" fill="#1f1b1b" >shNC</text>
<text x="665.7" y="513.2" font-size="30" text-anchor="start" textLength="104.2" lengthAdjust="spacingAndGlyphs" fill="#1f1b1b" >shLOX-1</text>
<text x="58.1" y="599.7" font-size="31.2" text-anchor="start" textLength="78.0" lengthAdjust="spacingAndGlyphs" fill="#1f1b1b" >LOX-1</text>
<text x="42.0" y="724.3" font-size="30.7" text-anchor="start" textLength="94.8" lengthAdjust="spacingAndGlyphs" fill="#1f1b1b" >GAPDH</text>
<text x="287.2" y="815.0" font-size="30" text-anchor="start" textLength="62.8" lengthAdjust="spacingAndGlyphs" fill="#1f1b1b" >A549</text>
<text x="608.4" y="815.0" font-size="30" text-anchor="start" textLength="77.6" lengthAdjust="spacingAndGlyphs" fill="#1f1b1b" >H1299</text>
<circle cx="818.3" cy="814.3" r="24.8" fill="#231d1d"/>
<text x="818.3" y="827.6" font-size="39" text-anchor="middle" fill="#fff" style="font-family:'Liberation Sans',sans-serif">B</text>
<rect x="1026.0" y="507.9" width="3.0" height="12.0" fill="#0000fe" />
<rect x="1013.8" y="506.4" width="27.5" height="3.0" fill="#0000fe" />
<rect x="999.6" y="518.9" width="55.8" height="246.2" fill="#0000fe" />
<rect x="1109.8" y="645.6" width="3.0" height="8.8" fill="#fe0000" />
<rect x="1097.5" y="644.1" width="27.5" height="3.0" fill="#fe0000" />
<rect x="1083.4" y="653.4" width="55.7" height="111.7" fill="#fe0000" />
<rect x="1249.1" y="593.3" width="3.0" height="8.9" fill="#0000fe" />
<rect x="1236.8" y="591.8" width="27.5" height="3.0" fill="#0000fe" />
<rect x="1222.7" y="601.2" width="55.8" height="163.9" fill="#0000fe" />
<rect x="1332.8" y="692.0" width="3.0" height="5.1" fill="#fe0000" />
<rect x="1320.5" y="690.5" width="27.5" height="3.0" fill="#fe0000" />
<rect x="1306.2" y="696.1" width="56.1" height="69.0" fill="#fe0000" />
<rect x="970.2" y="484.5" width="3.1" height="282.1" fill="#000" />
<rect x="959.8" y="763.6" width="431.3" height="3.0" fill="#000" />
<rect x="959.8" y="763.6" width="11.9" height="2.9" fill="#000" />
<text x="956.3" y="775.9" font-size="32.5" text-anchor="end" textLength="14.7" lengthAdjust="spacingAndGlyphs" fill="#1f1b1b" >0</text>
<rect x="959.8" y="670.6" width="11.9" height="2.9" fill="#000" />
<text x="956.3" y="682.9" font-size="32.5" text-anchor="end" textLength="29.4" lengthAdjust="spacingAndGlyphs" fill="#1f1b1b" >50</text>
<rect x="959.8" y="577.6" width="11.9" height="2.9" fill="#000" />
<text x="956.3" y="589.9" font-size="32.5" text-anchor="end" textLength="44.1" lengthAdjust="spacingAndGlyphs" fill="#1f1b1b" >100</text>
<rect x="959.8" y="484.6" width="11.9" height="2.9" fill="#000" />
<text x="956.3" y="496.9" font-size="32.5" text-anchor="end" textLength="44.1" lengthAdjust="spacingAndGlyphs" fill="#1f1b1b" >150</text>
<rect x="1067.6" y="765.1" width="3.0" height="11.9" fill="#000" />
<rect x="1290.7" y="765.1" width="3.0" height="11.9" fill="#000" />
<text x="1070.3" y="814.8" font-size="31.8" text-anchor="middle" textLength="62.0" lengthAdjust="spacingAndGlyphs" fill="#1f1b1b" >A549</text>
<text x="1294.4" y="814.8" font-size="31.8" text-anchor="middle" textLength="78.0" lengthAdjust="spacingAndGlyphs" fill="#1f1b1b" >H1299</text>
<text transform="translate(897.8,626.2) rotate(-90)" font-size="30.2" text-anchor="middle" textLength="243.7" lengthAdjust="spacingAndGlyphs" fill="#1f1b1b">Cell number per field</text>
<text x="1111.3" y="640.5" font-size="30.5" text-anchor="middle" textLength="28.5" lengthAdjust="spacingAndGlyphs" fill="#1f1b1b" >**</text>
<text x="1333.4" y="688.8" font-size="30.5" text-anchor="middle" textLength="42.8" lengthAdjust="spacingAndGlyphs" fill="#1f1b1b" >***</text>
<rect x="1155.2" y="487.0" width="30.5" height="15.1" fill="#0000fe" />
<rect x="1155.2" y="524.6" width="30.5" height="15.2" fill="#fe0000" />
<text x="1194.8" y="504.5" font-size="29.6" text-anchor="start" textLength="156.0" lengthAdjust="spacingAndGlyphs" fill="#1f1b1b" >oxLDL+shNC</text>
<text x="1194.8" y="541.1" font-size="29.6" text-anchor="start" textLength="198.0" lengthAdjust="spacingAndGlyphs" fill="#1f1b1b" >oxLDL+shLOX-1</text>
<circle cx="1418.1" cy="814.2" r="24.8" fill="#231d1d"/>
<text x="1418.2" y="828.2" font-size="40.5" text-anchor="middle" textLength="27.6" lengthAdjust="spacingAndGlyphs" fill="#fff" style="font-family:'Liberation Sans',sans-serif">C</text>
</g>
</svg></body></html>
